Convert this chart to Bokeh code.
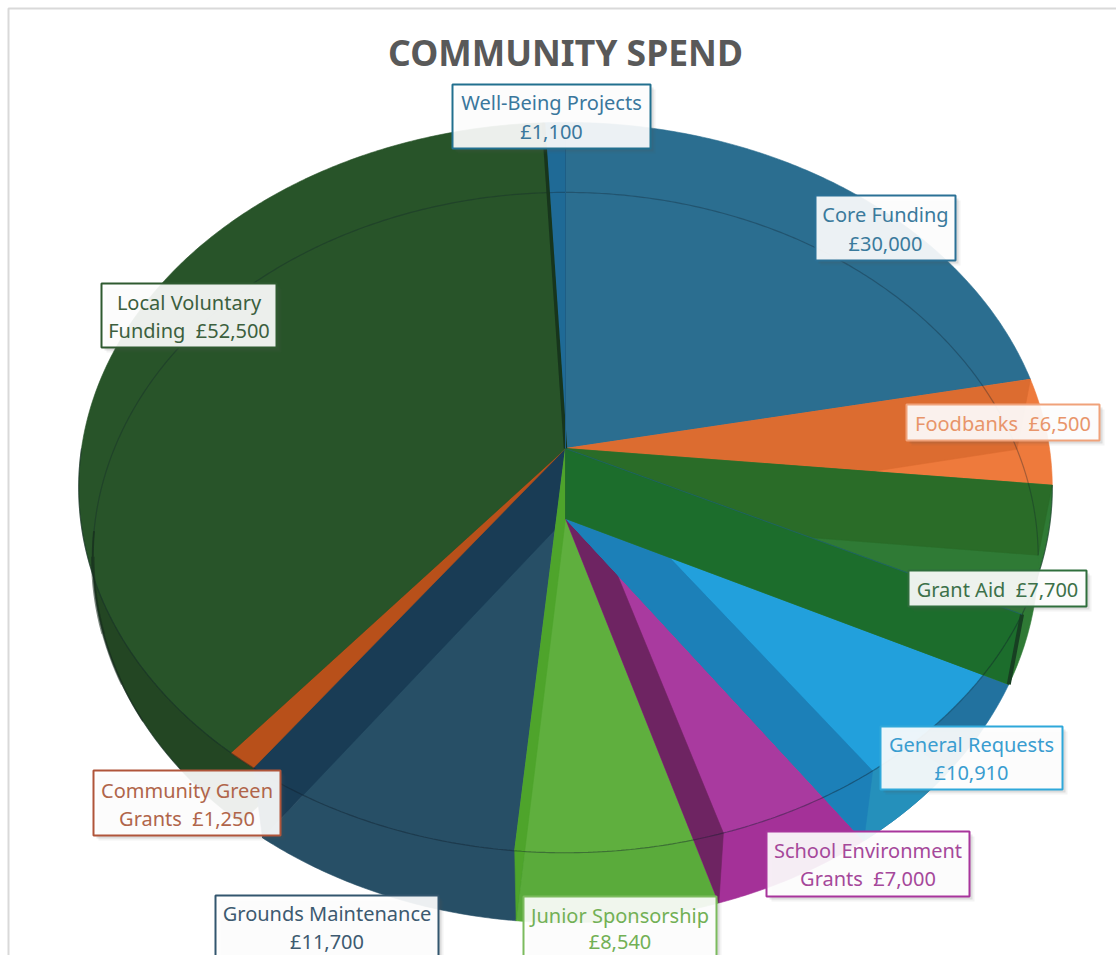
import numpy as np
from bokeh.plotting import figure
from bokeh.models import ColumnDataSource
from bokeh.core.properties import value
from bokeh.embed import file_html
from bokeh.resources import INLINE

title = "COMMUNITY SPEND"
categories = ["Core Funding", "Foodbanks", "Grant Aid", "General Requests", "School Environment Grants",
              "Junior Sponsorship", "Grounds Maintenance", "Community Green Grants",
              "Local Voluntary Funding", "Well-Being Projects"]
amounts = [30000, 6500, 7700, 10910, 7000, 8540, 11700, 1250, 52500, 1100]
GAP = "\u00a0 "
line1 = ["Core Funding", "", "", "General Requests", "School Environment", "Junior Sponsorship",
         "Grounds Maintenance", "Community Green", "Local Voluntary", "Well-Being Projects"]
line2_prefix = ["", "Foodbanks" + GAP, "Grant Aid" + GAP, "", "Grants" + GAP, "", "", "Grants" + GAP,
                "Funding" + GAP, ""]

# ---- style / layout (screen pixels of the reference) ----
CX, TOP_Y, FLOOR_Y = 565.0, 448.0, 518.0
K, B, A_TOP, A_FLOOR = 0.107, 361.0, 484.0, 470.0
boxes = [(815, 195, 955, 260), (906, 404, 1099, 440), (908, 570, 1086, 606), (880, 726, 1062, 789),
         (766, 831, 969, 896), (523, 896, 716, 975), (215, 895, 438, 975), (93, 770, 280, 835),
         (101, 283, 276, 347), (452, 84, 650, 148)]
line_y = [(214, 243), (None, 423), (None, 589), (744, 772), (850, 878), (915, 941), (913, 941), (790, 818),
          (302, 330), (102, 131)]
border = ["#2B7196", "#F0A27A", "#2F6E3C", "#2FA8DA", "#A8359C", "#7CBB5E", "#33566E", "#B0553A", "#2F5A30", "#22708F"]
textcol = ["#3A7A9C", "#E8956A", "#3C7049", "#3A9DD0", "#A5489A", "#72B055", "#3D5A70", "#B0654A", "#3C5F3E", "#3A779C"]

# ---- geometry from values ----
edges = np.concatenate([[0], np.cumsum(amounts)]) / sum(amounts) * 360.0
E_CORE, E_FOOD, E_GRANT, E_GEN, E_SCH, E_JUN, E_GRO, E_COM, E_LOC, E_WELL = edges[1:]


def pt(t, floor=False):
    r = np.radians(t)
    u, v = np.sin(r), -np.cos(r)
    w = 1 - K * v
    a, y0 = (A_FLOOR, FLOOR_Y) if floor else (A_TOP, TOP_Y)
    return CX + a * u / w, y0 + B * v / w


def arc(t0, t1, floor=False):
    ts = np.linspace(t0, t1, max(int(abs(t1 - t0) * 2), 2))
    x, y = pt(ts, floor)
    return list(x), list(y)


def wedge(t0, t1, floor=False):
    x, y = arc(t0, t1, floor)
    return [CX] + x, [FLOOR_Y if floor else TOP_Y] + y


def band(t):
    xs, ys = pt(t)
    xf, yf = pt(t, True)
    return [CX, xs, xf, CX], [TOP_Y, ys, yf, FLOOR_Y]


layers = [
    (wedge(E_COM, E_LOC, True), "#234623"),
    (wedge(0, E_CORE, True), "#2B6E90"),
    (wedge(0, E_CORE), "#2B6E90"),
    (wedge(E_LOC, E_WELL), "#1F6A96"),
    (wedge(E_JUN, E_GRO, True), "#274F66"),
    (wedge(E_JUN, E_GRO), "#274F66"),
    (band(E_GRO), "#193C55"),
    (wedge(E_GRO, E_COM), "#B8501A"),
    (wedge(E_COM, E_LOC), "#285429"),
    (wedge(E_SCH, E_JUN, True), "#5AAB3B"),
    (wedge(E_SCH, E_JUN), "#5FAF3E"),
    (band(E_JUN), "#4EA42B"),
    (wedge(E_GEN, E_SCH, True), "#A43198"),
    (wedge(E_GEN, E_SCH), "#A93A9F"),
    (band(E_SCH), "#6E2462"),
    (wedge(E_GRANT, E_GEN, True), "#22729F"),
    (wedge(E_GEN - 14, E_GEN, True), "#2590BB"),
    (wedge(E_GRANT, E_GEN), "#22A0DC"),
    (band(E_GEN), "#1C80B8"),
    (wedge(E_CORE, E_FOOD), "#EE7A3C"),
    (band(E_CORE), "#DC6C30"),
    (wedge(E_FOOD, E_GRANT), "#2F7A35"),
    (wedge(E_FOOD, E_GRANT, True), "#2F7A35"),
    (band(E_FOOD), "#2A6C28"),
    (band(E_GRANT), "#1C6D2C"),
]

p = figure(width=1116, height=955, x_range=(0, 1116), y_range=(955, 0), output_backend="svg",
           toolbar_location=None, min_border=0, outline_line_color=None, background_fill_color="white")
p.axis.visible = False
p.grid.visible = False

src = ColumnDataSource(dict(xs=[l[0][0] for l in layers], ys=[l[0][1] for l in layers], c=[l[1] for l in layers]))
p.patches("xs", "ys", source=src, fill_color="c", line_color="c", line_width=0.6)

# chart frame (only top and left fall in view)
p.line([8, 8, 1116], [955, 8, 8], line_color="#D9D9D9", line_width=2)

# thin translucent edges of the two discs
x, y = arc(E_FOOD, 270)
p.line(x, y, line_color="#10202C", line_alpha=0.42, line_width=1.2)
x, y = arc(E_COM, 360 + E_FOOD, True)
p.line(x, y, line_color="#10202C", line_alpha=0.32, line_width=1.2)
for a0, a1, lw in [(238, 244, 1.5), (244, 252, 2.5), (252, 264, 3.5), (264, 268, 2.0)]:
    x, y = arc(a0, a1, True)
    p.line(x, y, line_color="#14281A", line_alpha=0.55, line_width=lw)

# radial edge highlights
xs0, ys0 = pt(E_GRANT)
xf0, yf0 = pt(E_GRANT, True)
p.line([xs0, xf0], [ys0, yf0], line_color="#173F22", line_width=4)
p.line([CX, xs0], [TOP_Y, ys0], line_color="#1F5F78", line_alpha=0.7, line_width=1)
xw, yw = pt(E_LOC)
p.line([CX, xw], [TOP_Y, yw], line_color="#17351C", line_width=3.5)
xc, yc = pt(0)
p.line([CX, xc], [TOP_Y, yc], line_color="#1E5E85", line_width=1)

# labels
x0, y0, x1, y1 = map(list, zip(*boxes))
for shift, alpha in [(5, 0.07), (3, 0.14)]:
    p.quad(left=[v + shift for v in x0], right=[v + shift for v in x1], top=[v + shift for v in y0],
           bottom=[v + shift for v in y1], fill_color="#555555", fill_alpha=alpha, line_color=None)
p.quad(left=x0, right=x1, top=y0, bottom=y1, fill_color="white", fill_alpha=0.91,
       line_color=border, line_width=2)

tx, ty, tt, tc = [], [], [], []
for i, amt in enumerate(amounts):
    cx_ = (boxes[i][0] + boxes[i][2]) / 2
    if line1[i]:
        tx.append(cx_); ty.append(line_y[i][0]); tt.append(line1[i]); tc.append(textcol[i])
    tx.append(cx_); ty.append(line_y[i][1]); tt.append(f"{line2_prefix[i]}£{amt:,}"); tc.append(textcol[i])
p.text(tx, ty, text=tt, text_color=tc, text_font=value("Noto Sans"), text_font_size="20px",
       text_align="center", text_baseline="middle")

p.text([CX], [51], text=[title], text_color="#595959", text_font=value("Noto Sans"), text_font_size="35.5px",
       text_font_style="bold", text_align="center", text_baseline="middle")

open("out.html", "w").write(file_html(p, INLINE))
